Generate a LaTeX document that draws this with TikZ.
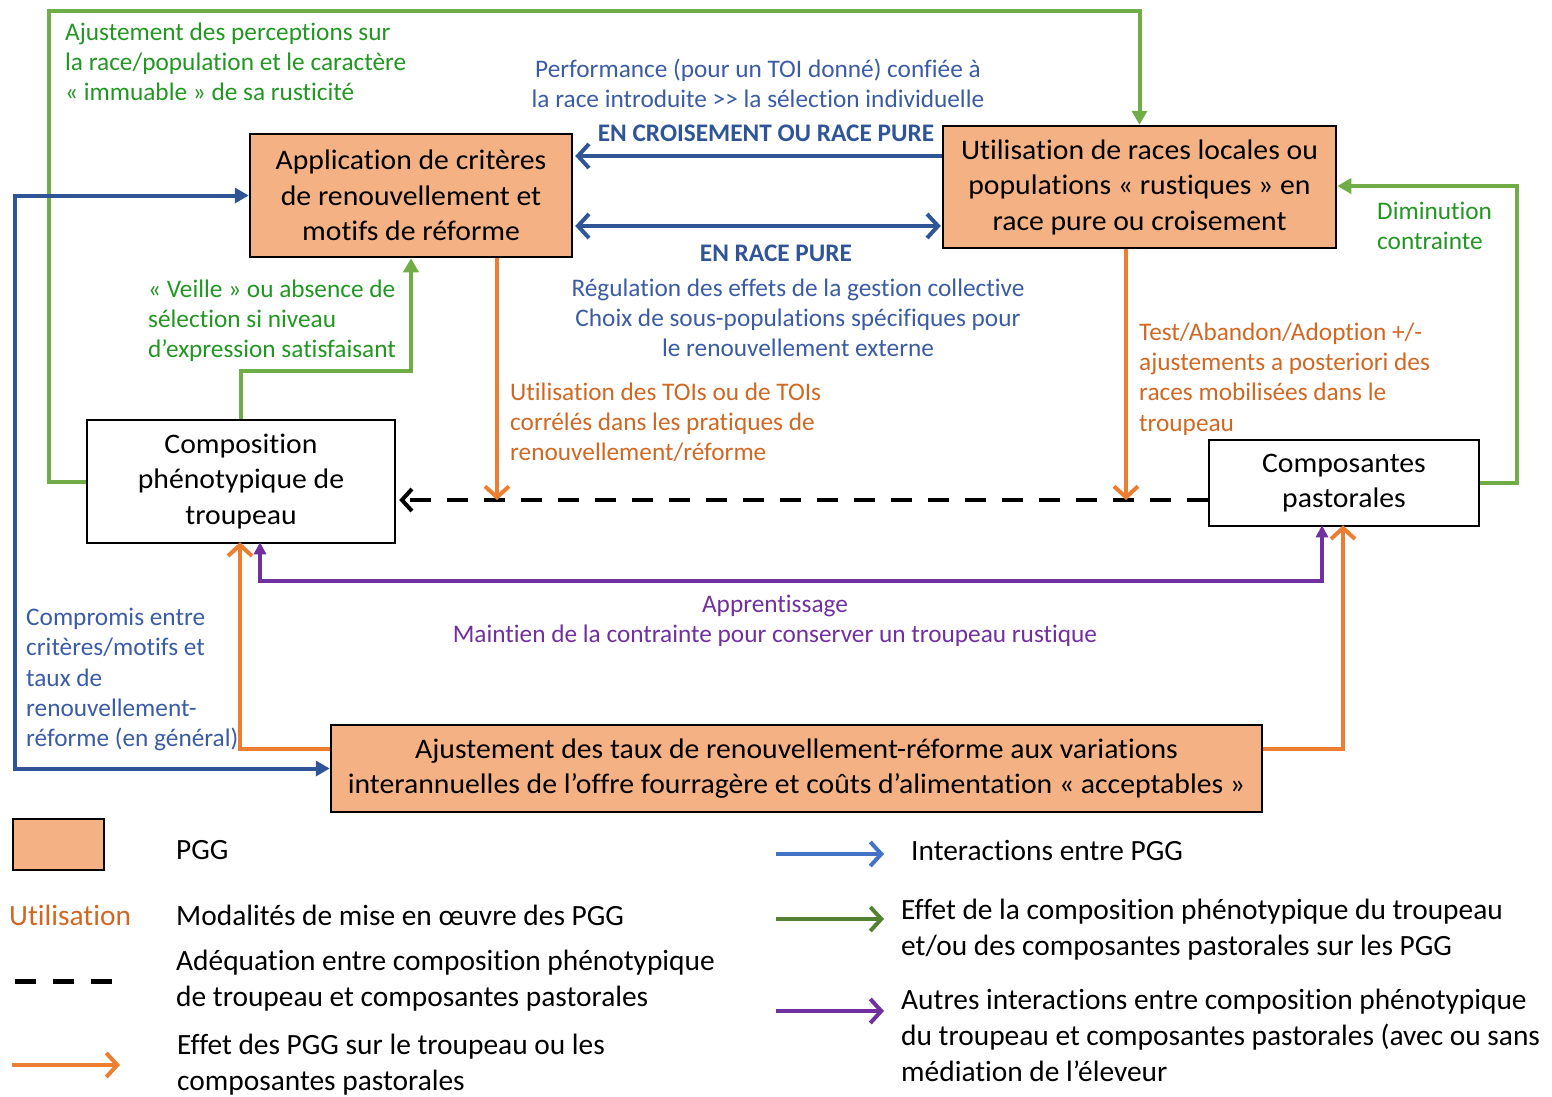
\documentclass[tikz,border=0pt]{standalone}
\usepackage{fontspec}
\setmainfont{Carlito}[Ligatures={TeX,NoCommon}]
\newfontfamily\boxfont[FakeStretch=1.05,Ligatures={TeX,NoCommon}]{Carlito}
\usetikzlibrary{arrows.meta}
\definecolor{pggfill}{RGB}{244,177,131}
\definecolor{org}{RGB}{237,125,49}
\definecolor{orgtxt}{RGB}{208,104,36}
\definecolor{grn}{RGB}{112,173,71}
\definecolor{grntxt}{RGB}{34,150,34}
\definecolor{grnleg}{RGB}{84,130,53}
\definecolor{blu}{RGB}{47,85,151}
\definecolor{blutxt}{RGB}{59,92,165}
\definecolor{bluleg}{RGB}{68,114,196}
\definecolor{pur}{RGB}{112,48,160}
\tikzset{
  pgg/.style={draw=black, line width=2.5pt, fill=pggfill, align=center, inner sep=0pt,
    font=\boxfont\fontsize{28.3}{35.5}\selectfont},
  wbox/.style={draw=black, line width=2.5pt, fill=white, align=center, inner sep=0pt,
    font=\boxfont\fontsize{28.3}{35.5}\selectfont},
  lbl/.style={inner sep=0pt, font=\fontsize{25.3}{30.2}\selectfont},
  blbl/.style={inner sep=0pt, text=blu, font=\bfseries\fontsize{25.3}{30}\selectfont},
  leg/.style={inner sep=0pt, anchor=west, align=left, font=\fontsize{29.4}{36}\selectfont},
  gl/.style={draw=grn, line width=4pt},
  bl/.style={draw=blu, line width=4pt},
  ol/.style={draw=org, line width=4pt},
  pl/.style={draw=pur, line width=4pt},
  tri/.style={-{Triangle[length=14pt,width=15pt]}},
  barb/.style={-{Straight Barb[length=11pt,width=24pt,line width=4pt]}},
}
\begin{document}
\begin{tikzpicture}[x=1pt,y=-1pt]
\useasboundingbox (0,0) rectangle (1552,1096);
% boxes
\node[pgg, minimum width=322pt, minimum height=123pt] (A) at (411,195.5)
  {Application de critères\\de renouvellement et\\motifs de réforme};
\node[pgg, minimum width=393pt, minimum height=122pt] (U) at (1139.5,187)
  {Utilisation de races locales ou\\populations « rustiques » en\\race pure ou croisement};
\node[wbox, minimum width=308pt, minimum height=123pt] (C) at (241,481.5)
  {Composition\\phénotypique de\\troupeau};
\node[wbox, minimum width=270pt, minimum height=86pt] (P) at (1344,483)
  {Composantes\\pastorales};
\node[pgg, minimum width=931pt, minimum height=87pt] (J) at (796.5,768.5)
  {Ajustement des taux de renouvellement-réforme aux variations\\interannuelles de l’offre fourragère et coûts d’alimentation « acceptables »};
% helper coordinates
\coordinate (h11) at (0,11);
\coordinate (h156) at (0,156);
\coordinate (h226) at (0,226);
\coordinate (h186) at (0,186);
\coordinate (h371) at (0,371);
\coordinate (h500) at (0,500);
\coordinate (h581) at (0,581);
\coordinate (h749) at (0,749);
\coordinate (v15) at (15,0);
\coordinate (v49) at (49,0);
\coordinate (v240) at (240,0);
\coordinate (v260) at (260,0);
\coordinate (v411) at (411,0);
\coordinate (v497) at (497,0);
\coordinate (v1126) at (1126,0);
\coordinate (v1322) at (1322,0);
\coordinate (v1343) at (1343,0);
\coordinate (v1517) at (1517,0);
% green loops
\draw[gl, tri] (C.west) -- (v49 |- C.west) -- (v49 |- h11) -- (U.north |- h11) -- (U.north);
\draw[gl, tri] (C.north) -- (C.north |- h371) -- (v411 |- h371) -- (A.south -| v411);
\draw[gl, tri] (P.east) -- (v1517 |- P.east) -- (v1517 |- h186) -- (U.east |- h186);
% blue
\draw[bl, {Triangle[length=14pt,width=15pt]}-{Triangle[length=14pt,width=15pt]}] (A.west) -- (v15 |- A.west) -- (v15 |- J.west) -- (J.west);
\draw[bl, barb] (U.west |- h156) -- ([xshift=2pt]A.east |- h156);
\draw[bl, {Straight Barb[length=11pt,width=24pt,line width=4pt]}-{Straight Barb[length=11pt,width=24pt,line width=4pt]}] ([xshift=2pt]A.east |- h226) -- ([xshift=-1pt]U.west |- h226);
% dashed
\draw[line width=4pt, dash pattern=on 21pt off 16pt, -{Straight Barb[length=10pt,width=22pt,line width=4pt]}] (P.west |- h500) -- ([xshift=3pt]C.east |- h500);
% orange
\draw[ol, barb] (A.south -| v497) -- (v497 |- h500);
\draw[ol, barb] (U.south -| v1126) -- (v1126 |- h500);
\draw[ol, barb] (J.west |- h749) -- (v240 |- h749) -- ([yshift=2pt]C.south -| v240);
\draw[ol, barb] (J.east |- h749) -- (v1343 |- h749) -- ([yshift=2pt]P.south -| v1343);
% purple
\draw[pl, {Triangle[length=12pt,width=12pt]}-{Triangle[length=12pt,width=12pt]}] ([yshift=2pt]C.south -| v260) -- (v260 |- h581) -- (v1322 |- h581) -- ([yshift=2pt]P.south -| v1322);
% labels
\node[lbl, text=grntxt, anchor=west, align=left] (t1) at (65,62)
  {Ajustement des perceptions sur\\la race/population et le caractère\\« immuable » de sa rusticité};
\node[lbl, text=blutxt, align=center] (t2) at (758,83)
  {Performance (pour un TOI donné) confiée à\\la race introduite >{}> la sélection individuelle};
\node[blbl] (t3) at (766,133) {EN CROISEMENT OU RACE PURE};
\node[blbl] (t4) at (776,253) {EN RACE PURE};
\node[lbl, text=blutxt, align=center] (t5) at (798,318)
  {Régulation des effets de la gestion collective\\Choix de sous-populations spécifiques pour\\le renouvellement externe};
\node[lbl, text=grntxt, anchor=west, align=left] (t6) at (148,320.5)
  {« Veille » ou absence de\\sélection si niveau\\d’expression satisfaisant};
\node[lbl, text=orgtxt, anchor=west, align=left] (t7) at (510,422)
  {Utilisation des TOIs ou de TOIs\\corrélés dans les pratiques de\\renouvellement/réforme};
\node[lbl, text=orgtxt, anchor=west, align=left] (t8) at (1139,379)
  {Test/Abandon/Adoption +/-\\ajustements a posteriori des\\races mobilisées dans le\\troupeau};
\node[lbl, text=grntxt, anchor=west, align=left] (t9) at (1377,226)
  {Diminution\\contrainte};
\node[lbl, text=pur, align=center] (t10) at (775,620.5)
  {Apprentissage\\Maintien de la contrainte pour conserver un troupeau rustique};
\node[lbl, text=blutxt, anchor=west, align=left] (t11) at (26,679.5)
  {Compromis entre\\critères/motifs et\\taux de\\renouvellement-\\réforme (en général)};
% legend
\node[draw=black, line width=2.5pt, fill=pggfill, minimum width=91pt, minimum height=51pt, inner sep=0pt] (l1) at (58.5,844.5) {};
\node[leg] (l1t) at (176,850) {PGG};
\node[leg, text=orgtxt] (l2) at (9,915) {Utilisation};
\node[leg] (l2t) at (176,915) {Modalités de mise en œuvre des PGG};
\coordinate (d1) at (15,981);
\coordinate (d2) at (112,981);
\draw[line width=5pt, dash pattern=on 21pt off 17pt] (d1) -- (d2);
\node[leg] (l3t) at (176,981) {Adéquation entre composition phénotypique\\de troupeau et composantes pastorales};
\coordinate (o1) at (12,1065);
\coordinate (o2) at (120,1065);
\draw[ol, barb] (o1) -- (o2);
\node[leg] (l4t) at (177,1064.5) {Effet des PGG sur le troupeau ou les\\composantes pastorales};
\coordinate (b1) at (776,854);
\coordinate (b2) at (884,854);
\draw[line width=4pt, draw=bluleg, barb] (b1) -- (b2);
\node[leg] (l5t) at (911,850) {Interactions entre PGG};
\coordinate (g1) at (776,919);
\coordinate (g2) at (884,919);
\draw[line width=4pt, draw=grnleg, barb] (g1) -- (g2);
\node[leg] (l6t) at (901,929.5) {Effet de la composition phénotypique du troupeau\\et/ou des composantes pastorales sur les PGG};
\coordinate (p1) at (776,1011);
\coordinate (p2) at (884,1011);
\draw[pl, barb] (p1) -- (p2);
\node[leg] (l7t) at (901,1035.5) {Autres interactions entre composition phénotypique\\du troupeau et composantes pastorales (avec ou sans\\médiation de l’éleveur};
\end{tikzpicture}
\end{document}
